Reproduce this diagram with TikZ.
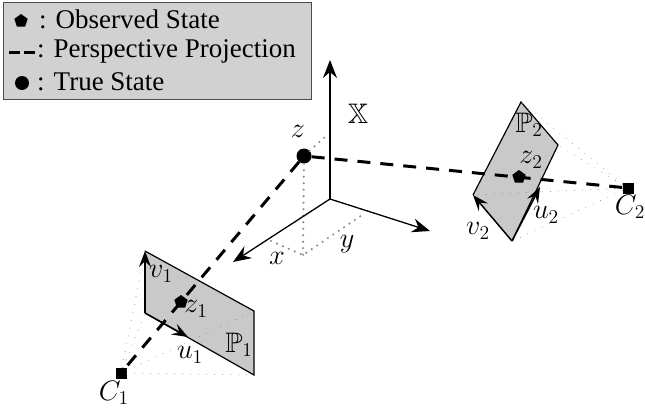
\documentclass[tikz,border=0pt]{standalone}
\usepackage{amssymb}
\usepackage{fontspec}
\setmainfont{Liberation Serif}
\usetikzlibrary{arrows.meta,shapes.geometric}
\tikzset{
  px/.style={x=1pt,y=-1pt},
  axisline/.style={line width=1.3pt,-{Stealth[length=18pt,width=14pt,inset=6pt]}},
  edgearrow/.style={line width=1.5pt,-{Stealth[length=16pt,width=12pt,inset=6pt]}},
  projline/.style={line width=3pt,dash pattern=on 13pt off 10pt},
  sight/.style={line width=0.9pt,line cap=round,dash pattern=on 0pt off 8pt,black!50},
  guide/.style={line width=2.4pt,line cap=round,dash pattern=on 0pt off 6.5pt,black!45},
  planeface/.style={fill=black!21},
  lab/.style={inner sep=0pt,scale=1.36,font=\fontsize{20.74}{24}\selectfont},
  legendtext/.style={inner sep=0pt,anchor=base west,font=\fontsize{27}{30}\selectfont},
  pent/.style={regular polygon,regular polygon sides=5,fill=black,inner sep=0pt,minimum size=14pt},
  dotn/.style={circle,fill=black,inner sep=0pt,minimum size=15pt},
  camera/.style={rectangle,fill=black,inner sep=0pt,minimum size=11pt}
}
\begin{document}
\begin{tikzpicture}[px]
\useasboundingbox (0,0) rectangle (645,410);
% legend
\node[draw=black!70,fill=black!18,line width=1pt,minimum width=308pt,minimum height=97pt,inner sep=0pt,anchor=north west] (legend) at (3,2) {};
\node[pent] (lgobs) at (21,21) {};
\node[legendtext] (lgt1) at (39,28) {: Observed State};
\coordinate (lgd1) at (9,52);
\coordinate (lgd2) at (36,52);
\draw[line width=3pt,dash pattern=on 11pt off 4pt] (lgd1) -- (lgd2);
\node[legendtext] (lgt2) at (37,57) {: Perspective Projection};
\node[dotn,minimum size=14pt] (lgtrue) at (22,83) {};
\node[legendtext] (lgt3) at (37,90) {: True State};
% world points
\coordinate (O) at (330,199);
\coordinate (Yt) at (330,60);
\coordinate (Xt) at (233,262);
\coordinate (Zt) at (430,231);
\coordinate (foot) at (303,255);
\coordinate (fx) at (271,241);
\coordinate (fy) at (365,213);
\coordinate (fz) at (327,135);
% plane 1
\coordinate (A1) at (145,251);
\coordinate (B1) at (254,311);
\coordinate (D1) at (254,375);
\coordinate (E1) at (145,313);
\coordinate (U1) at (188,337);
% plane 2
\coordinate (A2) at (521,102);
\coordinate (B2) at (558,145);
\coordinate (D2) at (512,241);
\coordinate (E2) at (473,195);
\coordinate (U2) at (540,187);
\fill[planeface] (A1) -- (B1) -- (D1) -- (E1) -- cycle;
\fill[planeface] (A2) -- (B2) -- (D2) -- (E2) -- cycle;
\draw[black,line width=1.2pt] (A1) -- (B1) -- (D1) -- (E1);
\draw[black,line width=1.2pt] (E2) -- (A2) -- (B2) -- (D2);
% nodes
\node[dotn] (z) at (304,156) {};
\node[pent] (z1) at (181,302) {};
\node[pent] (z2) at (519,177) {};
\node[camera] (C1) at (121,373) {};
\node[camera] (C2) at (628,188) {};
% sight lines
\foreach \p in {A1,B1,D1,E1} \draw[sight] (C1) -- (\p);
\foreach \p in {A2,B2,D2,E2} \draw[sight] (C2) -- (\p);
% guides
\draw[guide] (z) -- (foot);
\draw[guide] (z) -- (fz);
\draw[guide] (fx) -- (foot) -- (fy);
% axes
\draw[axisline] (O) -- (Yt);
\draw[axisline] (O) -- (Xt);
\draw[axisline] (O) -- (Zt);
% projection
\draw[projline] (z) -- (C1);
\draw[projline] (z) -- (C2);
% plane edges arrows
\draw[edgearrow] (E1) -- (A1);
\draw[edgearrow] (E1) -- (U1);
\draw[edgearrow] (D2) -- (E2);
\draw[edgearrow] (D2) -- (U2);
% labels
\node[lab] (lX) at (358,114) {$\mathbb{X}$};
\node[lab] (lz) at (298,131) {$z$};
\node[lab] (lx) at (277,258) {$x$};
\node[lab] (ly) at (347,244) {$y$};
\node[lab] (lv1) at (161,274) {$v_1$};
\node[lab] (lz1) at (196,309) {$z_1$};
\node[lab] (lu1) at (190,355) {$u_1$};
\node[lab] (lP1) at (239,345) {$\mathbb{P}_1$};
\node[lab] (lC1) at (114,393) {$C_1$};
\node[lab] (lP2) at (529,125) {$\mathbb{P}_2$};
\node[lab] (lz2) at (531,160) {$z_2$};
\node[lab] (lu2) at (546,215) {$u_2$};
\node[lab] (lv2) at (478,231) {$v_2$};
\node[lab] (lC2) at (630,207) {$C_2$};
\end{tikzpicture}
\end{document}
